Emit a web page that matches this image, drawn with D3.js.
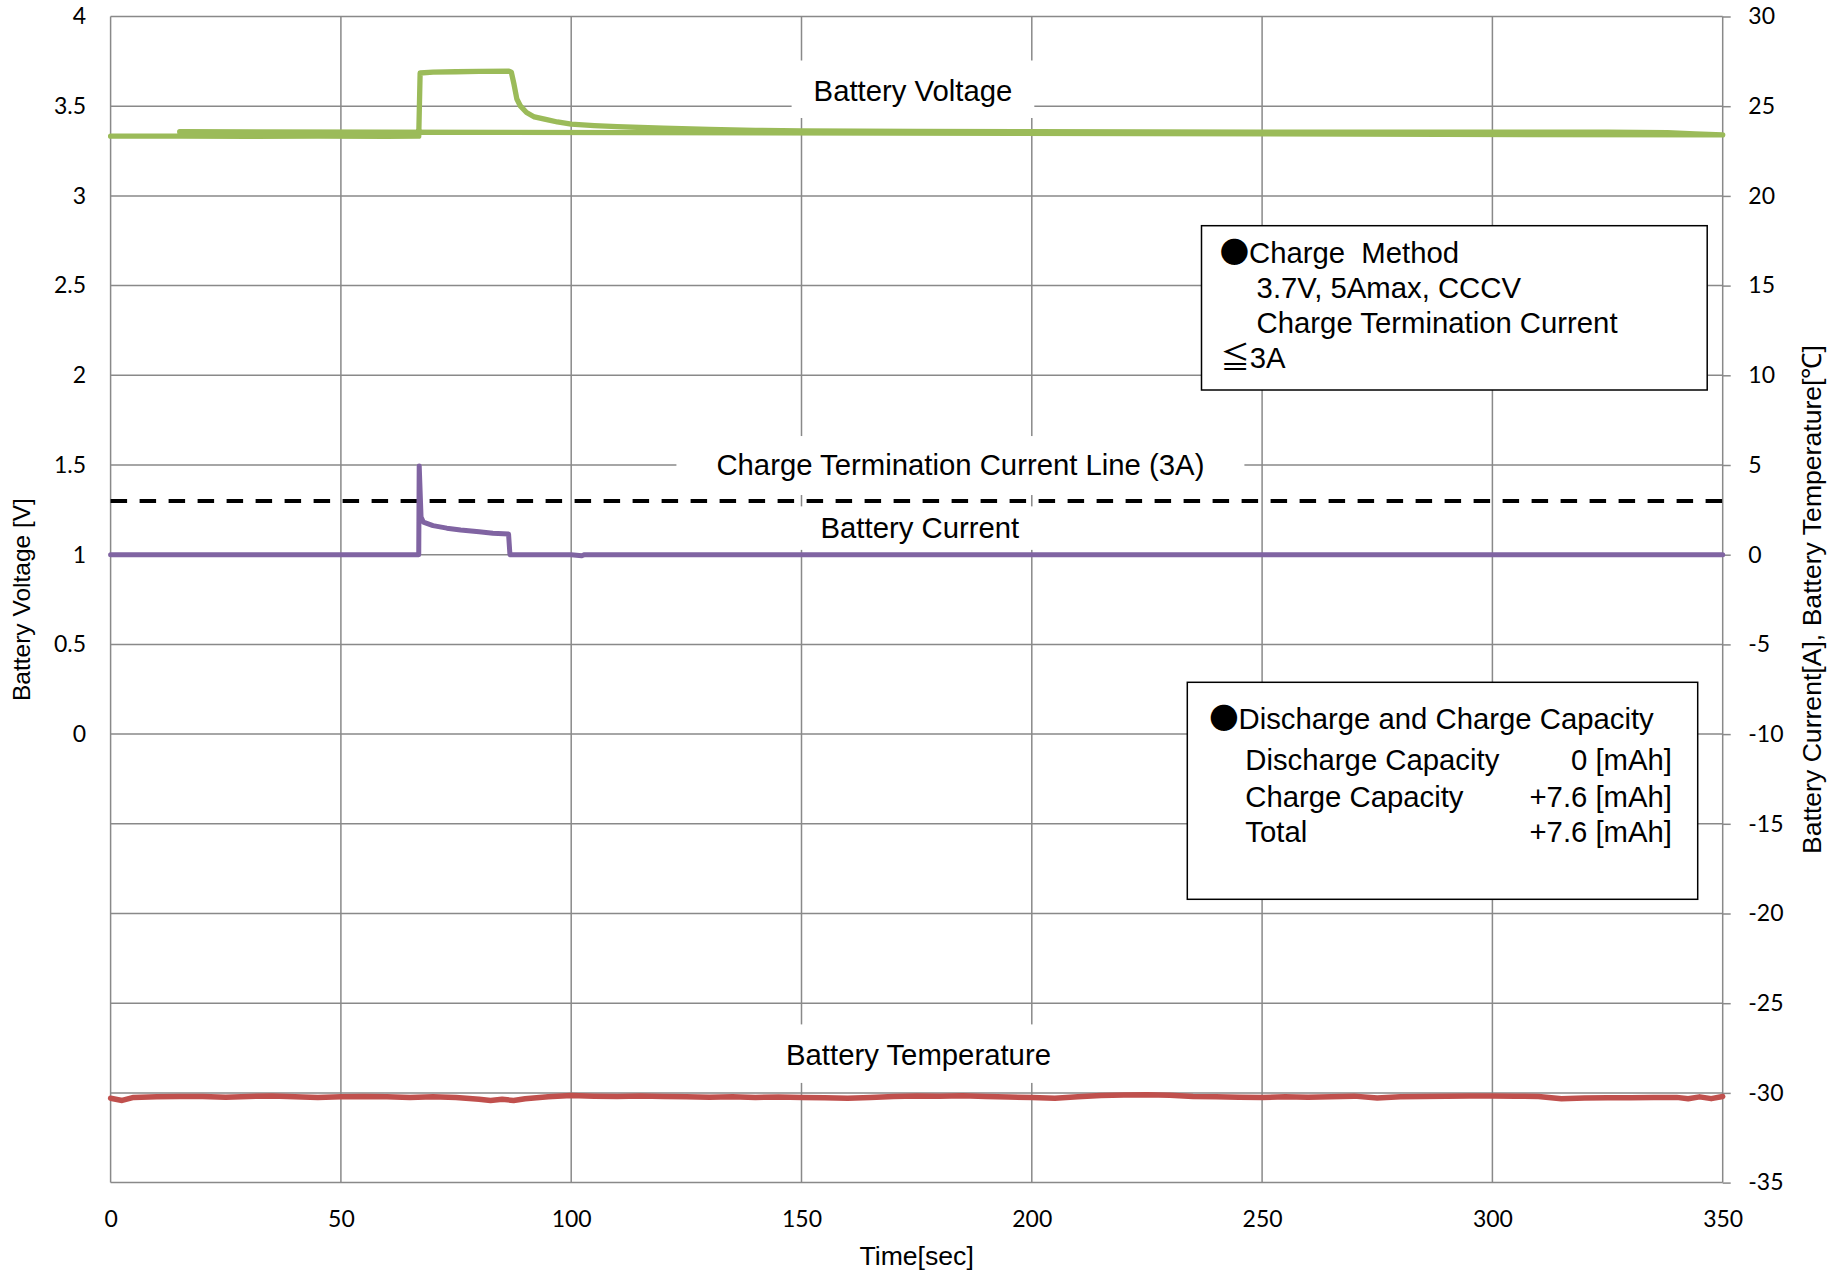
<!DOCTYPE html>
<html>
<head>
<meta charset="utf-8">
<script src="https://cdn.jsdelivr.net/npm/d3@7"></script>
<style>
  body { margin: 0; background: #fff; }
  svg { display: block; background: #fff; }
  .note { font-family: "Liberation Sans", Arial, sans-serif; font-size: 29.3px; fill: #000; white-space: pre; }
  .jp { font-family: "Noto Sans CJK JP", sans-serif; }
  .axis-title { font-family: "Liberation Sans", Arial, sans-serif; fill: #000; }
</style>
</head>
<body>
<svg class="battery-chart" width="1845" height="1272"></svg>
<script>
// axis ticks
const timeTicks = [0, 50, 100, 150, 200, 250, 300, 350];
const voltageTicks = [0, 0.5, 1, 1.5, 2, 2.5, 3, 3.5, 4];
const rightTicks = [-35, -30, -25, -20, -15, -10, -5, 0, 5, 10, 15, 20, 25, 30];

// battery voltage [V] (left axis) - last point is the logger's return stroke
const voltageTime = [0, 15, 30, 45, 60, 66.9, 67.2, 70, 75, 80, 86.5, 87, 87.6, 88.2, 89, 90.3, 92, 94.7, 97, 100, 105, 110, 120, 130, 140, 150, 175, 200, 225, 250, 275, 300, 325, 338, 344, 350, 15];
const voltageValue = [3.333, 3.333, 3.332, 3.333, 3.332, 3.333, 3.685, 3.690, 3.692, 3.694, 3.695, 3.690, 3.620, 3.540, 3.500, 3.465, 3.440, 3.425, 3.412, 3.400, 3.392, 3.386, 3.377, 3.370, 3.365, 3.362, 3.360, 3.358, 3.357, 3.356, 3.356, 3.355, 3.355, 3.352, 3.345, 3.340, 3.358];

// battery current [A] (right axis)
const currentTime = [0, 50, 66.9, 67.0, 67.4, 67.9, 70, 73, 76, 80, 83, 86.4, 86.7, 100, 102.3, 102.9, 150, 250, 350];
const currentValue = [0, 0, 0, 4.95, 2.1, 1.82, 1.62, 1.48, 1.38, 1.28, 1.20, 1.15, 0, 0, -0.06, 0, 0, 0, 0];

// charge termination current line [A]
const terminationTime = [0, 350];
const terminationValue = [3, 3];

// battery temperature [C] (right axis)
const tempTime = [0, 2.5, 5, 10, 15, 20, 25, 30, 35, 40, 45, 50, 55, 60, 65, 70, 75, 80, 82.5, 85, 87.5, 90, 95, 100, 105, 110, 115, 120, 125, 130, 135, 140, 145, 150, 155, 160, 165, 170, 175, 180, 185, 190, 195, 200, 205, 210, 215, 220, 225, 230, 235, 240, 245, 250, 255, 260, 265, 270, 275, 280, 285, 290, 295, 300, 305, 310, 315, 320, 325, 330, 335, 340, 342.5, 345, 347.5, 350];
const tempValue = [-30.30, -30.42, -30.25, -30.22, -30.20, -30.20, -30.24, -30.20, -30.17, -30.22, -30.25, -30.22, -30.20, -30.21, -30.26, -30.22, -30.25, -30.35, -30.42, -30.36, -30.42, -30.33, -30.22, -30.15, -30.18, -30.20, -30.17, -30.20, -30.22, -30.24, -30.22, -30.25, -30.23, -30.25, -30.27, -30.30, -30.26, -30.20, -30.17, -30.18, -30.16, -30.20, -30.23, -30.25, -30.30, -30.22, -30.14, -30.12, -30.10, -30.13, -30.20, -30.22, -30.24, -30.25, -30.22, -30.24, -30.21, -30.18, -30.28, -30.22, -30.20, -30.18, -30.17, -30.17, -30.18, -30.20, -30.32, -30.28, -30.27, -30.27, -30.26, -30.25, -30.33, -30.22, -30.32, -30.20];

const capacityRows = [
    ['Discharge Capacity', '0 [mAh]'],
    ['Charge Capacity', '+7.6 [mAh]'],
    ['Total', '+7.6 [mAh]']
];

const svg = d3.select('svg.battery-chart');
const width = +svg.attr('width');
const height = +svg.attr('height');

const margin = { top: 16.5, right: 122.3, bottom: 89.4, left: 110.6 };
const innerWidth = width - margin.left - margin.right;
const innerHeight = height - margin.top - margin.bottom;

const gridColor = '#898989';
const tickFont = 'Lato, "Open Sans", sans-serif';

const xScale = d3.scaleLinear().domain([0, 350]).range([0, innerWidth]);
const yVolt = d3.scaleLinear().domain([-2.5, 4]).range([innerHeight, 0]);
const yRight = d3.scaleLinear().domain([-35, 30]).range([innerHeight, 0]);

const g = svg.append('g')
    .attr('transform', `translate(${margin.left}, ${margin.top})`);

// grid
g.append('g').selectAll('line').data(timeTicks)
    .enter().append('line')
    .attr('x1', d => xScale(d)).attr('x2', d => xScale(d))
    .attr('y1', 0).attr('y2', innerHeight)
    .attr('stroke', gridColor).attr('stroke-width', 1.5);

g.append('g').selectAll('line').data(rightTicks)
    .enter().append('line')
    .attr('x1', 0).attr('x2', innerWidth)
    .attr('y1', d => yRight(d)).attr('y2', d => yRight(d))
    .attr('stroke', gridColor).attr('stroke-width', 1.5);

// axes
const styleAxis = sel => {
    sel.select('.domain').remove();
    sel.attr('font-family', tickFont).attr('font-size', 23);
    sel.selectAll('line').attr('stroke', gridColor).attr('stroke-width', 1.5);
};

g.append('g')
    .call(d3.axisLeft(yVolt).tickValues(voltageTicks).tickSize(0).tickPadding(24.6).tickFormat(d => String(d)))
    .call(styleAxis);

g.append('g')
    .attr('transform', `translate(${innerWidth}, 0)`)
    .call(d3.axisRight(yRight).tickValues(rightTicks).tickSize(8).tickPadding(17.6).tickFormat(d => String(d)))
    .call(styleAxis);

g.append('g')
    .attr('transform', `translate(0, ${innerHeight})`)
    .call(d3.axisBottom(xScale).tickValues(timeTicks).tickSize(0).tickPadding(28).tickFormat(d => String(d)))
    .call(styleAxis);

// axis titles
svg.append('text')
    .attr('class', 'axis-title')
    .attr('x', margin.left + innerWidth / 2)
    .attr('y', 1265)
    .attr('text-anchor', 'middle')
    .attr('font-size', 26.6)
    .text('Time[sec]');

svg.append('text')
    .attr('class', 'axis-title')
    .attr('transform', `translate(21, ${margin.top + innerHeight / 2}) rotate(-90)`)
    .attr('dy', '0.35em')
    .attr('text-anchor', 'middle')
    .attr('font-size', 24.5)
    .text('Battery Voltage [V]');

svg.append('text')
    .attr('class', 'axis-title')
    .attr('transform', `translate(1812, ${margin.top + innerHeight / 2}) rotate(-90)`)
    .attr('dy', '0.35em')
    .attr('text-anchor', 'middle')
    .attr('font-size', 26.6)
    .text('Battery Current[A], Battery Temperature[℃]');

// series
const lineOn = yScale => d3.line().x(d => xScale(d[0])).y(d => yScale(d[1]));

g.append('path')
    .datum(d3.zip(tempTime, tempValue))
    .attr('d', lineOn(yRight))
    .attr('fill', 'none')
    .attr('stroke', '#C0504D')
    .attr('stroke-width', 5.5)
    .attr('stroke-linejoin', 'round')
    .attr('stroke-linecap', 'round');

g.append('path')
    .datum(d3.zip(terminationTime, terminationValue))
    .attr('d', lineOn(yRight))
    .attr('fill', 'none')
    .attr('stroke', '#000')
    .attr('stroke-width', 4)
    .attr('stroke-dasharray', '16.5,12.5');

g.append('path')
    .datum(d3.zip(currentTime, currentValue))
    .attr('d', lineOn(yRight))
    .attr('fill', 'none')
    .attr('stroke', '#8064A2')
    .attr('stroke-width', 5)
    .attr('stroke-linejoin', 'round')
    .attr('stroke-linecap', 'round');

g.append('path')
    .datum(d3.zip(voltageTime, voltageValue))
    .attr('d', lineOn(yVolt))
    .attr('fill', 'none')
    .attr('stroke', '#9BBB59')
    .attr('stroke-width', 5.3)
    .attr('stroke-linejoin', 'round')
    .attr('stroke-linecap', 'round');

// series labels on white boxes
const labels = [
    { text: 'Battery Voltage', t: 174.2, y: yVolt(3.529), padX: 22, padTop: 13.5, padBottom: 11 },
    { text: 'Charge Termination Current Line (3A)', t: 184.5, y: yRight(4.44), padX: 40, padTop: 12, padBottom: 14 },
    { text: 'Battery Current', t: 175.7, y: yRight(0.91), padX: 40, padTop: 5, padBottom: 5.5 },
    { text: 'Battery Temperature', t: 175.4, y: yRight(-28.44), padX: 22, padTop: 13.5, padBottom: 12 }
];

labels.forEach(l => {
    const lg = g.append('g');
    const rect = lg.append('rect').attr('fill', '#fff');
    const txt = lg.append('text')
        .attr('class', 'note')
        .attr('x', xScale(l.t))
        .attr('y', l.y)
        .attr('text-anchor', 'middle')
        .text(l.text);
    const bb = txt.node().getBBox();
    rect.attr('x', bb.x - l.padX)
        .attr('y', bb.y - l.padTop)
        .attr('width', bb.width + 2 * l.padX)
        .attr('height', bb.height + l.padTop + l.padBottom);
});

// charge method box
svg.append('rect')
    .attr('x', 1201.5).attr('y', 225.7)
    .attr('width', 505.7).attr('height', 164.3)
    .attr('fill', '#fff').attr('stroke', '#000').attr('stroke-width', 1.5);

const m1 = svg.append('text').attr('class', 'note').attr('x', 1219.7).attr('y', 263.3);
m1.append('tspan').attr('class', 'jp').text('●');
m1.append('tspan').text('Charge  Method');

svg.append('text').attr('class', 'note').attr('x', 1256.6).attr('y', 298.3).text('3.7V, 5Amax, CCCV');
svg.append('text').attr('class', 'note').attr('x', 1256.6).attr('y', 332.7).text('Charge Termination Current');

const m4 = svg.append('text').attr('class', 'note').attr('x', 1220.4).attr('y', 367.7);
m4.append('tspan').attr('class', 'jp').text('≦');
m4.append('tspan').text('3A');

// capacity box
svg.append('rect')
    .attr('x', 1187.3).attr('y', 682.3)
    .attr('width', 510.4).attr('height', 217)
    .attr('fill', '#fff').attr('stroke', '#000').attr('stroke-width', 1.5);

const c1 = svg.append('text').attr('class', 'note').attr('x', 1209.2).attr('y', 729.3);
c1.append('tspan').attr('class', 'jp').text('●');
c1.append('tspan').text('Discharge and Charge Capacity');

const rowY = [770, 806.7, 841.7];
capacityRows.forEach((row, i) => {
    svg.append('text').attr('class', 'note')
        .attr('x', 1245.3).attr('y', rowY[i])
        .text(row[0]);
    svg.append('text').attr('class', 'note')
        .attr('x', 1672).attr('y', rowY[i])
        .attr('text-anchor', 'end')
        .text(row[1]);
});
</script>
</body>
</html>
